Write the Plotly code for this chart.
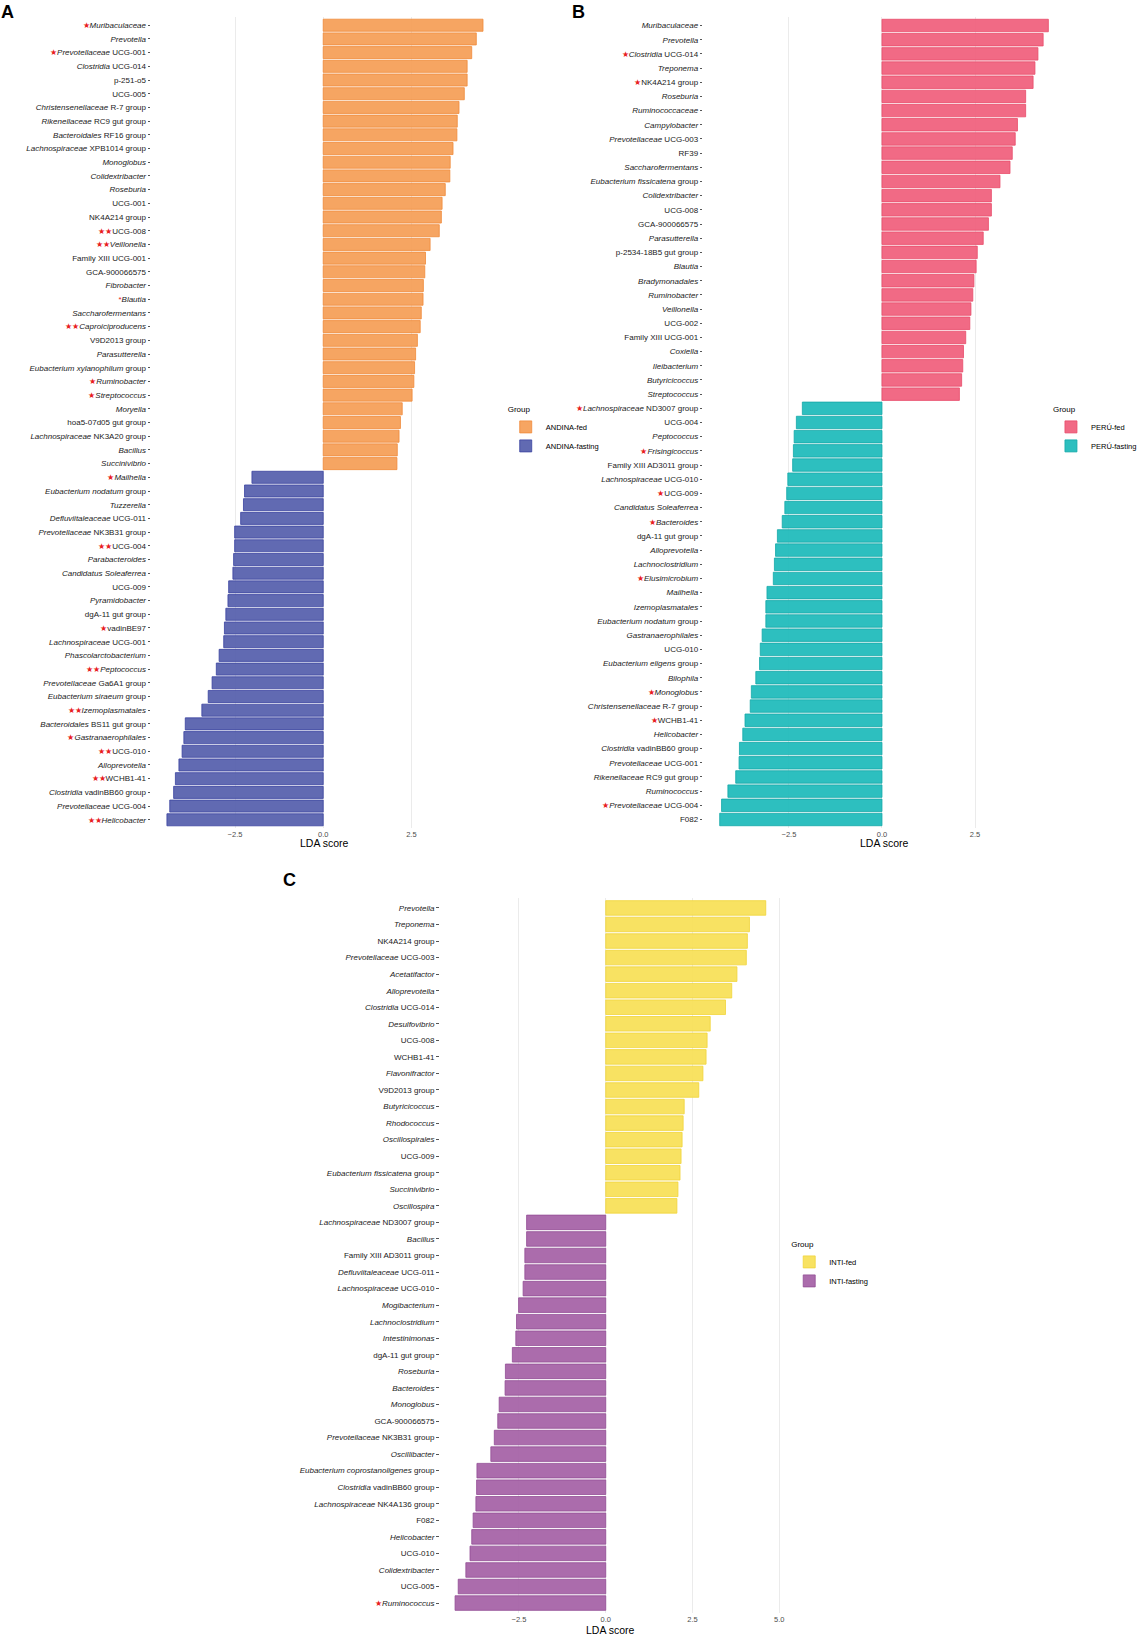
import plotly.graph_objects as go

W, H = 1142, 1637
FONT = "Liberation Sans, Arial, sans-serif"

S1 = '<span style="color:#E8201E">★</span>'
S2 = '<span style="color:#E8201E">★★</span>'
SA = '<span style="color:#E8201E">*</span>'

# ---- panel A: ANDINA ----
a_fed_labels = [
    S1 + "<i>Muribaculaceae</i>", "<i>Prevotella</i>", S1 + "<i>Prevotellaceae</i> UCG-001",
    "<i>Clostridia</i> UCG-014", "p-251-o5", "UCG-005", "<i>Christensenellaceae</i> R-7 group",
    "<i>Rikenellaceae</i> RC9 gut group", "<i>Bacteroidales</i> RF16 group",
    "<i>Lachnospiraceae</i> XPB1014 group", "<i>Monoglobus</i>", "<i>Colidextribacter</i>",
    "<i>Roseburia</i>", "UCG-001", "NK4A214 group", S2 + "UCG-008", S2 + "<i>Veillonella</i>",
    "Family XIII UCG-001", "GCA-900066575", "<i>Fibrobacter</i>", SA + "<i>Blautia</i>",
    "<i>Saccharofermentans</i>", S2 + "<i>Caproiciproducens</i>", "V9D2013 group",
    "<i>Parasutterella</i>", "<i>Eubacterium xylanophilum</i> group", S1 + "<i>Ruminobacter</i>",
    S1 + "<i>Streptococcus</i>", "<i>Moryella</i>", "hoa5-07d05 gut group",
    "<i>Lachnospiraceae</i> NK3A20 group", "<i>Bacillus</i>", "<i>Succinivibrio</i>",
]
a_fed_lda = [4.53, 4.34, 4.21, 4.08, 4.08, 4.00, 3.85, 3.80, 3.79, 3.68, 3.60, 3.59, 3.46,
             3.37, 3.35, 3.29, 3.03, 2.90, 2.88, 2.84, 2.83, 2.78, 2.75, 2.67, 2.62, 2.59,
             2.57, 2.52, 2.24, 2.19, 2.15, 2.10, 2.09]
a_fast_labels = [
    S1 + "<i>Mailhella</i>", "<i>Eubacterium nodatum</i> group", "<i>Tuzzerella</i>",
    "<i>Defluviitaleaceae</i> UCG-011", "<i>Prevotellaceae</i> NK3B31 group", S2 + "UCG-004",
    "<i>Parabacteroides</i>", "<i>Candidatus Soleaferrea</i>", "UCG-009", "<i>Pyramidobacter</i>",
    "dgA-11 gut group", S1 + "vadinBE97", "<i>Lachnospiraceae</i> UCG-001",
    "<i>Phascolarctobacterium</i>", S2 + "<i>Peptococcus</i>", "<i>Prevotellaceae</i> Ga6A1 group",
    "<i>Eubacterium siraeum</i> group", S2 + "<i>Izemoplasmatales</i>",
    "<i>Bacteroidales</i> BS11 gut group", S1 + "<i>Gastranaerophilales</i>", S2 + "UCG-010",
    "<i>Alloprevotella</i>", S2 + "WCHB1-41", "<i>Clostridia</i> vadinBB60 group",
    "<i>Prevotellaceae</i> UCG-004", S2 + "<i>Helicobacter</i>",
]
a_fast_lda = [-2.02, -2.23, -2.26, -2.34, -2.51, -2.51, -2.54, -2.56, -2.68, -2.70, -2.76,
              -2.80, -2.82, -2.95, -3.03, -3.15, -3.26, -3.44, -3.91, -3.95, -4.00, -4.09,
              -4.19, -4.24, -4.35, -4.43]

# ---- panel B: PERÚ ----
b_fed_labels = [
    "<i>Muribaculaceae</i>", "<i>Prevotella</i>", S1 + "<i>Clostridia</i> UCG-014",
    "<i>Treponema</i>", S1 + "NK4A214 group", "<i>Roseburia</i>", "<i>Ruminococcaceae</i>",
    "<i>Campylobacter</i>", "<i>Prevotellaceae</i> UCG-003", "RF39", "<i>Saccharofermentans</i>",
    "<i>Eubacterium fissicatena</i> group", "<i>Colidextribacter</i>", "UCG-008",
    "GCA-900066575", "<i>Parasutterella</i>", "p-2534-18B5 gut group", "<i>Blautia</i>",
    "<i>Bradymonadales</i>", "<i>Ruminobacter</i>", "<i>Veillonella</i>", "UCG-002",
    "Family XIII UCG-001", "<i>Coxiella</i>", "<i>Ileibacterium</i>", "<i>Butyricicoccus</i>",
    "<i>Streptococcus</i>",
]
b_fed_lda = [4.47, 4.33, 4.19, 4.11, 4.06, 3.86, 3.86, 3.64, 3.58, 3.50, 3.44, 3.17, 2.94,
             2.94, 2.86, 2.72, 2.56, 2.53, 2.47, 2.44, 2.39, 2.36, 2.25, 2.19, 2.17, 2.14, 2.08]
b_fast_labels = [
    S1 + "<i>Lachnospiraceae</i> ND3007 group", "UCG-004", "<i>Peptococcus</i>",
    S1 + "<i>Frisingicoccus</i>", "Family XIII AD3011 group", "<i>Lachnospiraceae</i> UCG-010",
    S1 + "UCG-009", "<i>Candidatus Soleaferrea</i>", S1 + "<i>Bacteroides</i>",
    "dgA-11 gut group", "<i>Alloprevotella</i>", "<i>Lachnoclostridium</i>",
    S1 + "<i>Elusimicrobium</i>", "<i>Mailhella</i>", "<i>Izemoplasmatales</i>",
    "<i>Eubacterium nodatum</i> group", "<i>Gastranaerophilales</i>", "UCG-010",
    "<i>Eubacterium eligens</i> group", "<i>Bilophila</i>", S1 + "<i>Monoglobus</i>",
    "<i>Christensenellaceae</i> R-7 group", S1 + "WCHB1-41", "<i>Helicobacter</i>",
    "<i>Clostridia</i> vadinBB60 group", "<i>Prevotellaceae</i> UCG-001",
    "<i>Rikenellaceae</i> RC9 gut group", "<i>Ruminococcus</i>",
    S1 + "<i>Prevotellaceae</i> UCG-004", "F082",
]
b_fast_lda = [-2.14, -2.30, -2.36, -2.38, -2.40, -2.53, -2.56, -2.61, -2.68, -2.81, -2.86,
              -2.89, -2.92, -3.09, -3.12, -3.12, -3.22, -3.27, -3.29, -3.39, -3.51, -3.54,
              -3.68, -3.74, -3.83, -3.84, -3.93, -4.14, -4.31, -4.36]

# ---- panel C: INTI ----
c_fed_labels = [
    "<i>Prevotella</i>", "<i>Treponema</i>", "NK4A214 group", "<i>Prevotellaceae</i> UCG-003",
    "<i>Acetatifactor</i>", "<i>Alloprevotella</i>", "<i>Clostridia</i> UCG-014",
    "<i>Desulfovibrio</i>", "UCG-008", "WCHB1-41", "<i>Flavonifractor</i>", "V9D2013 group",
    "<i>Butyricicoccus</i>", "<i>Rhodococcus</i>", "<i>Oscillospirales</i>", "UCG-009",
    "<i>Eubacterium fissicatena</i> group", "<i>Succinivibrio</i>", "<i>Oscillospira</i>",
]
c_fed_lda = [4.61, 4.14, 4.08, 4.05, 3.78, 3.63, 3.45, 3.01, 2.92, 2.89, 2.80, 2.68, 2.26,
             2.23, 2.20, 2.17, 2.14, 2.08, 2.05]
c_fast_labels = [
    "<i>Lachnospiraceae</i> ND3007 group", "<i>Bacillus</i>", "Family XIII AD3011 group",
    "<i>Defluviitaleaceae</i> UCG-011", "<i>Lachnospiraceae</i> UCG-010", "<i>Mogibacterium</i>",
    "<i>Lachnoclostridium</i>", "<i>Intestinimonas</i>", "dgA-11 gut group", "<i>Roseburia</i>",
    "<i>Bacteroides</i>", "<i>Monoglobus</i>", "GCA-900066575",
    "<i>Prevotellaceae</i> NK3B31 group", "<i>Oscillibacter</i>",
    "<i>Eubacterium coprostanoligenes</i> group", "<i>Clostridia</i> vadinBB60 group",
    "<i>Lachnospiraceae</i> NK4A136 group", "F082", "<i>Helicobacter</i>", "UCG-010",
    "<i>Colidextribacter</i>", "UCG-005", S1 + "<i>Ruminococcus</i>",
]
c_fast_lda = [-2.28, -2.28, -2.33, -2.33, -2.38, -2.51, -2.57, -2.59, -2.69, -2.89, -2.90,
              -3.07, -3.11, -3.21, -3.31, -3.71, -3.72, -3.74, -3.82, -3.86, -3.91, -4.03,
              -4.25, -4.34]

groups = [
    ("ANDINA-fed", "ANDINA-fasting"),
    ("PERÚ-fed", "PERÚ-fasting"),
    ("INTI-fed", "INTI-fasting"),
]
fills = [
    (("rgba(246,160,90,0.95)", "#F08A3A"), ("rgba(88,98,174,0.95)", "#3A43A0")),
    (("rgba(240,98,126,0.95)", "#E84B6A"), ("rgba(34,188,188,0.95)", "#14A8A8")),
    (("rgba(248,224,90,0.95)", "#F0D43A"), ("rgba(166,100,168,0.95)", "#924C94")),
]

# pixel boxes of each plot area: (left, right, top, bottom)
boxes = [(153, 505, 17, 828), (712, 1078, 17, 828), (445, 791, 898, 1613)]
title_y = [843, 843, 1630]
legend_pos = [(512, 402), (1064, 402), (799, 1237)]
letters = [("A", 0, 1), ("B", 578, 1), ("C", 285, 869)]

fig = go.Figure()
layout = {}
annotations = []

panels = [
    (a_fed_labels, a_fed_lda, a_fast_labels, a_fast_lda),
    (b_fed_labels, b_fed_lda, b_fast_labels, b_fast_lda),
    (c_fed_labels, c_fed_lda, c_fast_labels, c_fast_lda),
]

for i, (fl, fv, sl, sv) in enumerate(panels):
    n = "" if i == 0 else str(i + 1)
    leg = "legend" + n
    labels = fl + sl
    pos_fed = list(range(len(fl)))
    pos_fast = list(range(len(fl), len(labels)))
    for pos, vals, name, (fc, lc) in zip((pos_fed, pos_fast), (fv, sv), groups[i], fills[i]):
        fig.add_trace(go.Bar(
            x=vals, y=pos, orientation="h", name=name,
            xaxis="x" + n, yaxis="y" + n, legend=leg,
            marker=dict(color=fc, line=dict(color=lc, width=0.8)),
        ))

    lo, hi = min(sv), max(fv)
    pad = 0.05 * (hi - lo)
    l, r, t, b = boxes[i]
    layout["xaxis" + n] = dict(
        domain=[l / W, r / W], anchor="y" + n, range=[lo - pad, hi + pad],
        tick0=0, dtick=2.5, tickformat=".1f", showgrid=True, gridcolor="#EBEBEB",
        gridwidth=1, zeroline=False, showline=False, ticks="",
        tickfont=dict(size=7.5, color="#4D4D4D"),
    )
    layout["yaxis" + n] = dict(
        domain=[1 - b / H, 1 - t / H], anchor="x" + n,
        range=[len(labels) - 0.4, -0.6], tickmode="array",
        tickvals=list(range(len(labels))), ticktext=labels,
        showgrid=False, zeroline=False, showline=False,
        ticks="outside", ticklen=2.5, tickwidth=0.8, tickcolor="#555",
        tickfont=dict(size=8, color="#1A1A1A"),
    )
    lx, ly = legend_pos[i]
    layout[leg] = dict(
        x=lx / W, y=1 - ly / H, xanchor="left", yanchor="top",
        title=dict(text="Group", font=dict(size=8)), font=dict(size=7.5),
        bgcolor="rgba(0,0,0,0)", tracegroupgap=0, itemwidth=30,
    )
    annotations.append(dict(
        text="LDA score", x=(l + r) / 2 / W, y=1 - title_y[i] / H,
        xref="paper", yref="paper", xanchor="center", yanchor="middle",
        showarrow=False, font=dict(size=10.5, color="#000"),
    ))

for txt, x, y in letters:
    annotations.append(dict(
        text="<b>" + txt + "</b>", x=x / W, y=1 - y / H, xref="paper", yref="paper",
        xanchor="left", yanchor="top", showarrow=False, borderpad=0,
        font=dict(size=18, color="#000"),
    ))

fig.update_layout(
    width=W, height=H, margin=dict(l=0, r=0, t=0, b=0),
    paper_bgcolor="white", plot_bgcolor="white",
    font=dict(family=FONT, color="#000"),
    bargap=0.12, barmode="overlay", showlegend=True,
    annotations=annotations, **layout,
)

fig.write_html("out.html", config={"displayModeBar": False},
               post_script="document.body.style.margin='0';")
